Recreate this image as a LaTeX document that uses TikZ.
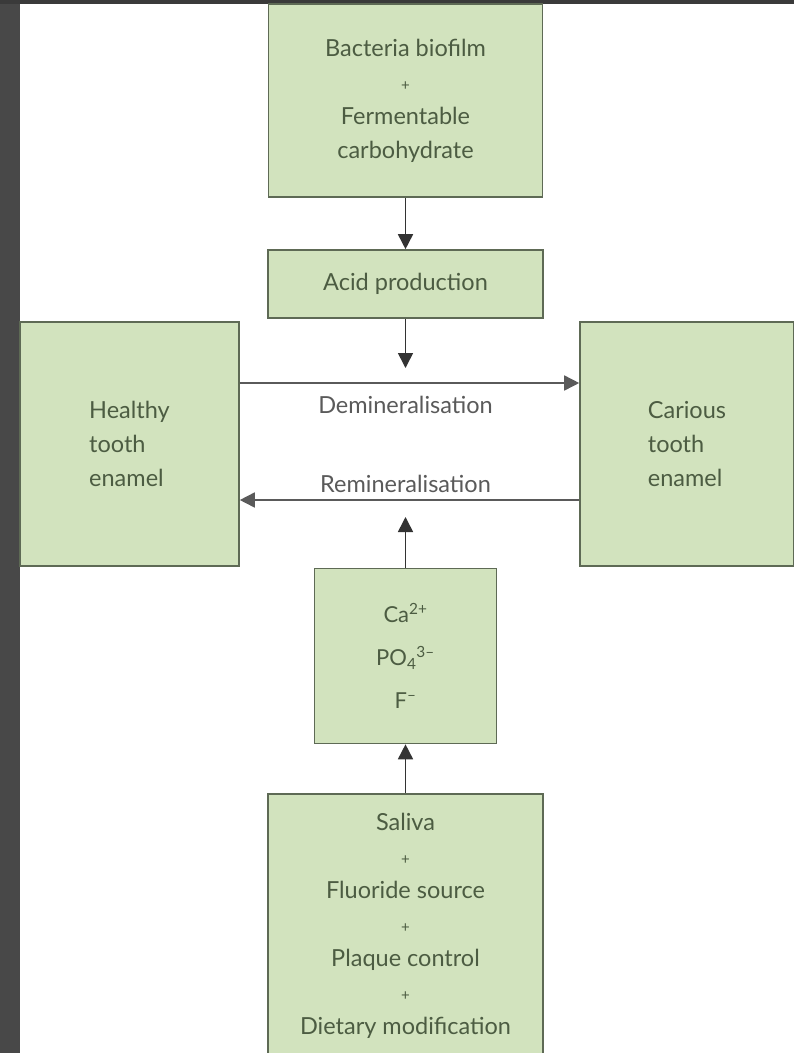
\documentclass[tikz,border=0pt]{standalone}
\usepackage{fontspec}
\setmainfont{Lato}
\usetikzlibrary{arrows.meta}
\definecolor{boxfill}{HTML}{D2E3BE}
\definecolor{boxline}{HTML}{5E6A55}
\definecolor{boxtext}{HTML}{4C5C42}
\definecolor{linegray}{HTML}{5A5A5A}
\definecolor{arrowdark}{HTML}{333333}
\definecolor{framedark}{HTML}{484848}
\newcommand\plusfont{\fontsize{15}{15}\selectfont}
\tikzset{
  greenbox/.style={draw=boxline, line width=1.6pt, fill=boxfill, text=boxtext,
    inner sep=0pt, font=\fontsize{23.5}{34}\selectfont},
  flow/.style={draw=arrowdark, line width=1.6pt, -{Triangle[width=15pt,length=15pt]}},
  hflow/.style={draw=linegray, line width=1.6pt, -{Triangle[width=15pt,length=15pt]}},
  lbl/.style={text=linegray, font=\fontsize{23.5}{28}\selectfont, inner sep=0pt}
}
\begin{document}
\begin{tikzpicture}[x=1pt,y=-1pt]
\useasboundingbox (0,0) rectangle (794,1053);
\clip (0,0) rectangle (794,1053);
\fill[white] (0,0) rectangle (794,1053);
\fill[framedark] (0,0) rectangle (20,1053);
\fill[framedark!80!black] (0,0) rectangle (794,4);

\node[greenbox, minimum width=274pt, minimum height=193pt, align=center] (top) at (405.5,100.5)
  {Bacteria biofilm\\{\plusfont +}\\Fermentable\\carbohydrate};
\node[greenbox, minimum width=275pt, minimum height=68pt] (acid) at (405.5,284) {Acid production};
\node[greenbox, minimum width=219pt, minimum height=244pt, align=left] (healthy) at (129.5,444)
  {Healthy\\tooth\\enamel};
\node[greenbox, minimum width=214pt, minimum height=244pt, align=left] (carious) at (687,444)
  {Carious\\tooth\\enamel};
\node[greenbox, minimum width=182pt, minimum height=175pt, align=center,
  font=\fontsize{22}{43}\selectfont] (ions) at (405.5,656)
  {Ca\textsuperscript{2+}\\PO\textsubscript{4}\textsuperscript{3--}\\F\textsuperscript{--}};
\node[greenbox, minimum width=275pt, minimum height=264pt, align=center, anchor=north] (bottom) at (405.5,793)
  {Saliva\\{\plusfont +}\\Fluoride source\\{\plusfont +}\\Plaque control\\{\plusfont +}\\Dietary modification};

\coordinate (dm) at (405.5,383);
\coordinate (rm) at (405.5,500);

\node[lbl] (dlabel) at (405.5,405) {Demineralisation};
\node[lbl] (rlabel) at (405.5,484) {Remineralisation};

\draw[flow] (acid.south) -- ([yshift=15pt]acid.south |- dm);
\draw[flow] (top.south) -- (acid.north);
\draw[hflow] (healthy.east |- dm) -- (carious.west |- dm);
\draw[hflow] (carious.west |- rm) -- (healthy.east |- rm);
\draw[flow] (ions.north) -- ([yshift=-17pt]ions.north |- rm);
\draw[flow] (bottom.north) -- (ions.south);
\end{tikzpicture}
\end{document}
